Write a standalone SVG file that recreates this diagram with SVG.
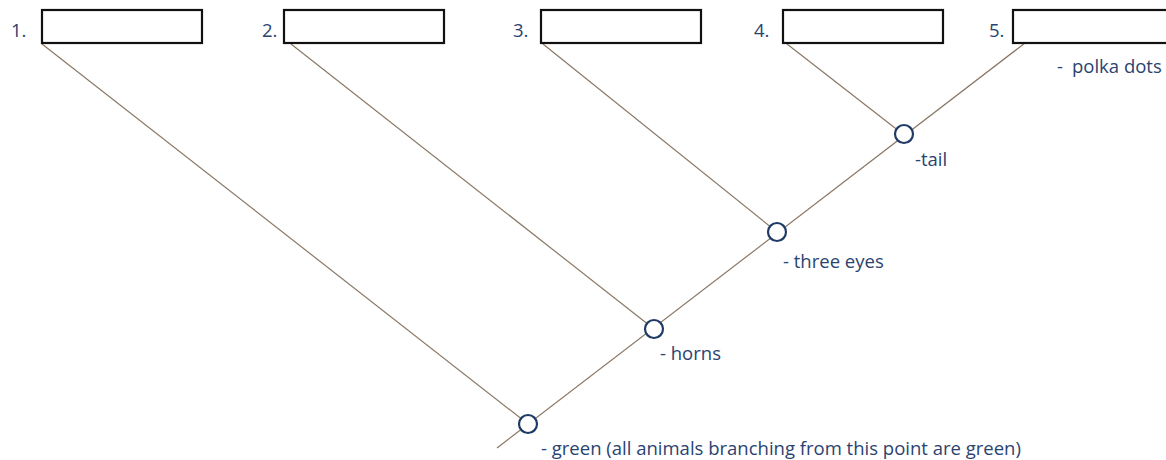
<svg xmlns="http://www.w3.org/2000/svg" width="1166" height="460" viewBox="0 0 1166 460">
<style>
.box{fill:#fff;stroke:#111;stroke-width:2.2}
.ln{stroke:#8a7866;stroke-width:1.2;fill:none}
.nd{fill:#fff;stroke:#1f3a66;stroke-width:2.2}
text{font-family:"Open Sans","Liberation Sans",sans-serif;font-size:18.5px;fill:#2a4370}
</style>
<rect width="1166" height="460" fill="#fff"/>
<g id="connectors">
<line class="ln" x1="1025" y1="43" x2="497" y2="448"/>
<line class="ln" x1="42" y1="44" x2="528" y2="424"/>
<line class="ln" x1="291" y1="44" x2="654" y2="329"/>
<line class="ln" x1="543" y1="44" x2="777" y2="232"/>
<line class="ln" x1="787" y1="44" x2="904" y2="135"/>
</g>
<g id="box1"><rect class="box" x="42" y="10" width="160" height="33"/><text x="11" y="37">1.</text></g>
<g id="box2"><rect class="box" x="284" y="10" width="160" height="33"/><text x="262" y="37">2.</text></g>
<g id="box3"><rect class="box" x="541" y="10" width="160" height="33"/><text x="513" y="37">3.</text></g>
<g id="box4"><rect class="box" x="783" y="10" width="160" height="33"/><text x="754" y="37">4.</text></g>
<g id="box5"><rect class="box" x="1013" y="10" width="170" height="33"/><text x="989" y="37">5.</text><text x="1057" y="73"><tspan>-</tspan><tspan x="1072">polka dots</tspan></text></g>
<g id="node-tail"><circle class="nd" cx="904" cy="134" r="9"/><text x="915" y="166">-tail</text></g>
<g id="node-three-eyes"><circle class="nd" cx="777" cy="232" r="9"/><text x="783" y="268">- three eyes</text></g>
<g id="node-horns"><circle class="nd" cx="654" cy="329" r="9"/><text x="660" y="360">- horns</text></g>
<g id="node-green"><circle class="nd" cx="528" cy="424" r="9"/><text x="541" y="455">- green (all animals branching from this point are green)</text></g>
</svg>
